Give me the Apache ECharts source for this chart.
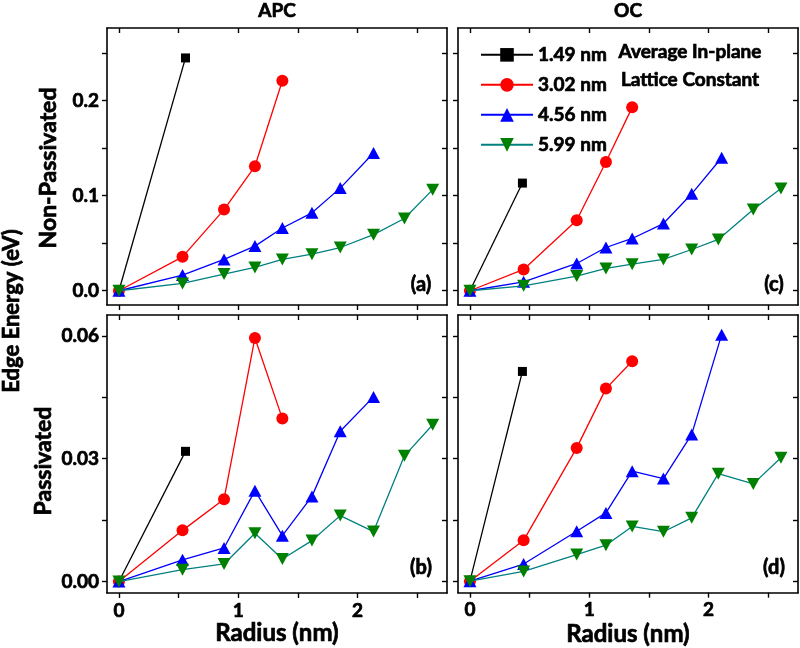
<!DOCTYPE html>
<html>
<head>
<meta charset="utf-8">
<script src="https://cdn.jsdelivr.net/npm/echarts@6/dist/echarts.min.js"></script>
<style>html,body{margin:0;padding:0;background:#fff}#c{width:800px;height:648px}</style>
</head>
<body>
<div id="c"></div>
<script>
// ---- data ----
const seriesNames = ['1.49 nm', '3.02 nm', '4.56 nm', '5.99 nm'];
const panelTitles = ['APC', 'OC'];
const rowTitles = ['Non-Passivated', 'Passivated'];
const panelLetters = ['(a)', '(c)', '(b)', '(d)'];
const xTickValues = [0, 0.5, 1, 1.5, 2, 2.5];
const xLabelValues = [0, 1, 2];
const yTopTicks = [0, 0.05, 0.1, 0.15, 0.2, 0.25];
const yTopLabels = [0, 0.1, 0.2];
const yBotTicks = [0, 0.015, 0.03, 0.045, 0.06];
const yBotLabels = [0, 0.03, 0.06];

// radius (nm)
const apcBlackRadius = [0, 0.558];
const apcRadius = [0, 0.533, 0.881, 1.14, 1.37, 1.618, 1.855, 2.134, 2.393, 2.63];
const ocBlackRadius = [0, 0.44];
const ocRadius = [0, 0.45, 0.895, 1.14, 1.36, 1.622, 1.859, 2.082, 2.375, 2.607];
const ocBlueRadius = [0, 0.45, 0.895, 1.14, 1.36, 1.622, 1.859, 2.11];

// (a) APC non-passivated
const apcNonBlack = [0, 0.245];
const apcNonRed = [0, 0.0357, 0.0854, 0.131, 0.221];
const apcNonBlue = [0, 0.0165, 0.033, 0.047, 0.066, 0.082, 0.108, 0.145];
const apcNonGreen = [0, 0.0077, 0.0175, 0.0245, 0.033, 0.0385, 0.0455, 0.059, 0.076, 0.1064];
// (c) OC non-passivated
const ocNonBlack = [0, 0.1133];
const ocNonRed = [0, 0.0224, 0.0742, 0.1354, 0.193];
const ocNonBlue = [0, 0.0094, 0.0287, 0.0455, 0.055, 0.0707, 0.102, 0.14];
const ocNonGreen = [0, 0.0052, 0.0154, 0.0235, 0.028, 0.033, 0.0434, 0.054, 0.0854, 0.1075];
// (b) APC passivated
const apcPasBlack = [0, 0.0318];
const apcPasRed = [0, 0.0125, 0.0201, 0.0595, 0.0398];
const apcPasBlue = [0, 0.0053, 0.0082, 0.0222, 0.0112, 0.0208, 0.0367, 0.0451];
const apcPasGreen = [0, 0.0029, 0.0043, 0.0118, 0.0055, 0.010, 0.0161, 0.0122, 0.0307, 0.0383];
// (d) OC passivated
const ocPasBlack = [0, 0.0513];
const ocPasRed = [0, 0.010, 0.0326, 0.0471, 0.0538];
const ocPasBlue = [0, 0.0042, 0.0122, 0.0167, 0.0269, 0.0251, 0.0359, 0.0603];
const ocPasGreen = [0, 0.0024, 0.0065, 0.0088, 0.0134, 0.0121, 0.0155, 0.0263, 0.0238, 0.0302];

// ---- layout / style ----
const FONT = 'Lato';
const BW = 0.7; // text thickening stroke
const grids = [
  {left: 107, top: 28, width: 340, height: 277},  // a
  {left: 458, top: 28, width: 340, height: 277},  // c
  {left: 107, top: 315, width: 340, height: 278}, // b
  {left: 458, top: 315, width: 340, height: 278}  // d
];
const yRanges = [
  {min: -0.015, max: 0.2765, ticks: yTopTicks, labels: yTopLabels, dec: 1},
  {min: -0.015, max: 0.2765, ticks: yTopTicks, labels: yTopLabels, dec: 1},
  {min: -0.0028, max: 0.0651, ticks: yBotTicks, labels: yBotLabels, dec: 2},
  {min: -0.0028, max: 0.0651, ticks: yBotTicks, labels: yBotLabels, dec: 2}
];
const panelData = [
  [[apcBlackRadius, apcNonBlack], [apcRadius, apcNonRed], [apcRadius, apcNonBlue], [apcRadius, apcNonGreen]],
  [[ocBlackRadius, ocNonBlack], [ocRadius, ocNonRed], [ocBlueRadius, ocNonBlue], [ocRadius, ocNonGreen]],
  [[apcBlackRadius, apcPasBlack], [apcRadius, apcPasRed], [apcRadius, apcPasBlue], [apcRadius, apcPasGreen]],
  [[ocBlackRadius, ocPasBlack], [ocRadius, ocPasRed], [ocBlueRadius, ocPasBlue], [ocRadius, ocPasGreen]]
];
const styles = [
  {symbol: 'rect', size: 9, color: '#000000', line: '#000000', rotate: 0},
  {symbol: 'circle', size: 12, color: '#ff0000', line: '#ff0000', rotate: 0},
  {symbol: 'triangle', size: [13, 12], color: '#0000ff', line: '#0000ff', rotate: 0},
  {symbol: 'triangle', size: [13, 12], color: '#008000', line: '#008080', rotate: 180}
];

const textBold = (size) => ({fontFamily: FONT, fontWeight: 'bold', fontSize: size, color: '#000',
  textBorderColor: '#000', textBorderWidth: BW});

const axisLine = {show: true, onZero: false, lineStyle: {color: '#000', width: 1.6}};
const xAxes = [], yAxes = [], series = [];
grids.forEach((g, i) => {
  const bottomRow = i >= 2;
  xAxes.push({
    gridIndex: i, type: 'value', position: 'bottom', min: -0.1, max: 2.75,
    axisLine, splitLine: {show: false},
    axisTick: {show: true, inside: false, length: 5, customValues: xTickValues, lineStyle: {color: '#000', width: 1.4}},
    axisLabel: Object.assign({show: bottomRow, customValues: xLabelValues, margin: 8,
      formatter: v => String(v)}, textBold(19)),
    name: bottomRow ? 'Radius (nm)' : '', nameLocation: 'middle', nameGap: i === 3 ? 30 : 27,
    nameTextStyle: textBold(24)
  });
  xAxes.push({
    gridIndex: i, type: 'value', position: 'top', min: -0.1, max: 2.75,
    axisLine, splitLine: {show: false}, axisLabel: {show: false},
    axisTick: {show: true, inside: true, length: 5, customValues: xTickValues, lineStyle: {color: '#000', width: 1.4}}
  });
  const yr = yRanges[i];
  yAxes.push({
    gridIndex: i, type: 'value', position: 'left', min: yr.min, max: yr.max,
    axisLine, splitLine: {show: false},
    axisTick: {show: true, inside: false, length: 5, customValues: yr.ticks, lineStyle: {color: '#000', width: 1.4}},
    axisLabel: Object.assign({show: i % 2 === 0, customValues: yr.labels, margin: 8,
      formatter: v => v.toFixed(yr.dec)}, textBold(19))
  });
  yAxes.push({
    gridIndex: i, type: 'value', position: 'right', min: yr.min, max: yr.max,
    axisLine, splitLine: {show: false}, axisLabel: {show: false},
    axisTick: {show: true, inside: true, length: 5, customValues: yr.ticks, lineStyle: {color: '#000', width: 1.4}}
  });
  panelData[i].forEach((pair, k) => {
    const st = styles[k];
    series.push({
      name: seriesNames[k], type: 'line', xAxisIndex: 2 * i, yAxisIndex: 2 * i,
      data: pair[0].map((x, j) => [x, pair[1][j]]),
      symbol: st.symbol, symbolSize: st.size, symbolRotate: st.rotate, showAllSymbol: true,
      itemStyle: {color: st.color},
      lineStyle: {color: st.line, width: 1.3},
      emphasis: {disabled: true}, animation: false, z: 2 + k
    });
  });
});

const txt = (text, x, y, size, extra) => Object.assign({
  type: 'text', x, y,
  style: {text, fill: '#000', stroke: '#000', lineWidth: BW, font: 'bold ' + size + 'px ' + FONT,
    textAlign: 'center', textVerticalAlign: 'middle'}
}, extra || {});

const graphic = [
  txt(panelTitles[0], 277, 11, 19),
  txt(panelTitles[1], 628, 11, 19),
  txt('Edge Energy (eV)', 12, 311, 22, {rotation: Math.PI / 2}),
  txt(rowTitles[0], 49, 168, 23, {rotation: Math.PI / 2}),
  txt(rowTitles[1], 44, 461, 23, {rotation: Math.PI / 2}),
  txt(panelLetters[0], 421, 285, 20),
  txt(panelLetters[1], 774, 285, 20),
  txt(panelLetters[2], 421, 568, 20),
  txt(panelLetters[3], 774, 568, 20),
  txt('Average In-plane', 690, 52, 19),
  txt('Lattice Constant', 690, 80, 19)
];

const chart = echarts.init(document.getElementById('c'), null, {renderer: 'canvas'});
chart.setOption({
  animation: false,
  backgroundColor: '#fff',
  grid: grids.map(g => Object.assign({containLabel: false}, g)),
  xAxis: xAxes, yAxis: yAxes, series,
  legend: {
    data: seriesNames, orient: 'vertical', left: 475, top: 40,
    itemWidth: 52, itemHeight: 17, itemGap: 10.3,
    textStyle: Object.assign(textBold(19), {lineHeight: 18}),
    selectedMode: false
  },
  graphic
});
</script>
</body>
</html>
